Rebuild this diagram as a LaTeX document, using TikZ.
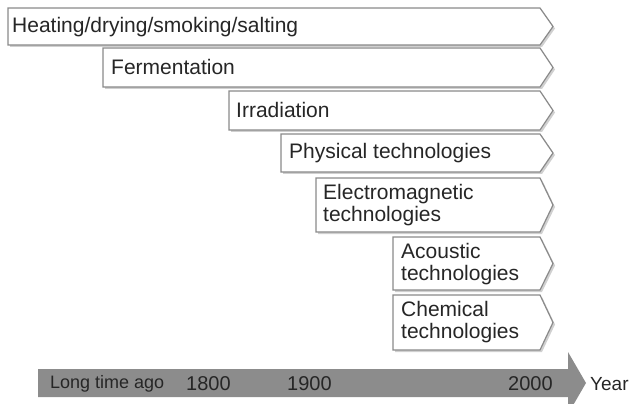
\documentclass[tikz,border=0pt]{standalone}
\usepackage{fontspec}
\setmainfont{Liberation Sans}
\definecolor{boxgray}{HTML}{8A8A8A}
\definecolor{shadowgray}{HTML}{D0D0D0}
\definecolor{textgray}{HTML}{262626}
\definecolor{arrowgray}{HTML}{8C8C8C}
\begin{document}
\begin{tikzpicture}[x=1pt,y=-1pt,
  tag/.style={draw=boxgray, line width=1.2pt, fill=white, line join=miter},
  tagshadow/.style={fill=shadowgray},
  lbl/.style={anchor=west, font=\fontsize{21}{21.5}\selectfont, text=textgray, inner sep=0pt, align=left},
  axlbl/.style={anchor=west, font=\fontsize{20}{22}\selectfont, text=textgray, inner sep=0pt}]
\useasboundingbox (0,0) rectangle (633,404);
\foreach \x/\ya/\yb in {8/8/45, 103/48/87, 229/91/130, 281/134/172, 316/178/232, 393/237/290, 393/295/350}{
  \fill[tagshadow] (\x+2,\ya+2) -- (542,\ya+2) -- (555,{(\ya+\yb)/2+2}) -- (542,\yb+2) -- (\x+2,\yb+2) -- cycle;
  \draw[tag] (\x,\ya) -- (540,\ya) -- (553,{(\ya+\yb)/2}) -- (540,\yb) -- (\x,\yb) -- cycle;
}
\node[lbl] (h1) at (12,27) {Heating/drying/smoking/salting};
\node[lbl] (h2) at (111,67) {Fermentation};
\node[lbl] (h3) at (236,110) {Irradiation};
\node[lbl] (h4) at (289,153) {Physical technologies};
\node[lbl] (h5) at (323,205) {Electromagnetic\\technologies};
\node[lbl] (h6) at (401,264) {Acoustic\\technologies};
\node[lbl] (h7) at (401,322) {Chemical\\technologies};
\fill[arrowgray] (38,369) -- (568,369) -- (568,352) -- (586,383) -- (568,414) -- (568,397) -- (38,397) -- cycle;
\node[axlbl, font=\fontsize{18}{20}\selectfont] (tlong) at (50,384) {Long time ago};
\node[axlbl] (t1800) at (186,384) {1800};
\node[axlbl] (t1900) at (287,384) {1900};
\node[axlbl] (t2000) at (508,384) {2000};
\node[axlbl, font=\fontsize{19}{21}\selectfont] (tyear) at (590,384) {Year};
\end{tikzpicture}
\end{document}
